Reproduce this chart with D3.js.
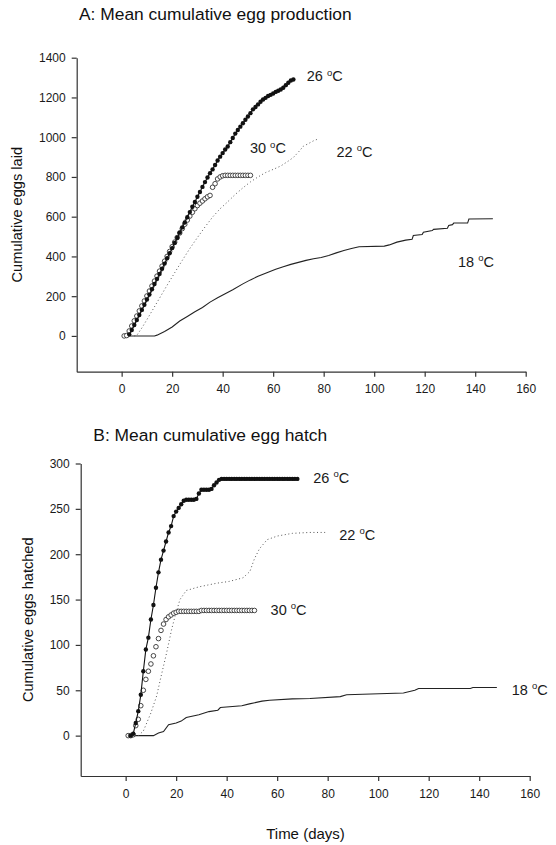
<!DOCTYPE html>
<html>
<head>
<meta charset="utf-8">
<script src="https://cdn.jsdelivr.net/npm/d3@7"></script>
<style>
  body { margin: 0; background: #fff; }
  svg { display: block; font-family: Arial, "Liberation Sans", sans-serif; }
</style>
</head>
<body>
<div id="chart"></div>
<script>
// ---- Data ----
const xTicks = [0, 20, 40, 60, 80, 100, 120, 140, 160];
const yTicksLaid = [0, 200, 400, 600, 800, 1000, 1200, 1400];
const yTicksHatch = [0, 50, 100, 150, 200, 250, 300];

// A: cumulative eggs laid. Marker series are daily values, first day given separately
const laid26Start = 3;
const laid26 = [8, 30, 55, 80, 105, 131, 157, 183, 208, 235, 261, 287, 312, 338, 364, 391, 416, 442, 468, 494,
  520, 546, 571, 597, 623, 650, 674, 700, 724, 750, 774, 797, 819, 838, 860, 883, 902, 920, 938, 953,
  975, 996, 1018, 1036, 1053, 1070, 1088, 1104, 1121, 1140, 1152, 1165, 1178, 1190, 1198, 1207, 1213, 1220, 1228, 1234,
  1240, 1249, 1262, 1274, 1285, 1290];
const laid30Start = 1;
const laid30 = [0, 2, 25, 50, 76, 100, 126, 151, 176, 201, 226, 251, 276, 301, 326, 351, 376, 400, 425, 449,
  472, 495, 518, 540, 562, 583, 603, 622, 640, 656, 668, 679, 690, 700, 707, 748, 766, 790, 800, 806,
  808, 808, 808, 808, 808, 808, 808, 808, 808, 808, 808];
// line-only series: [day, value] vertices
const laid22 = [[5, 0], [6, 3], [8, 40], [10, 82], [12, 125], [15, 190], [18, 255], [21, 318], [24, 380], [27, 440],
  [30, 495], [33, 548], [36, 598], [39, 640], [42, 675], [45, 712], [48, 745], [51, 775], [54, 800], [57, 822],
  [60, 838], [63, 855], [66, 880], [68, 898], [70, 925], [72, 955], [74, 968], [76, 982], [78, 992]];
const laid18 = [[2, 0], [13, 0], [14, 4], [17, 22], [20, 45], [23, 75], [26, 98], [29, 122], [32, 143], [35, 170],
  [38, 192], [41, 212], [44, 232], [48, 262], [51, 282], [54, 300], [57, 315], [61, 335], [64, 348], [67, 360],
  [70, 370], [73, 380], [76, 388], [79, 395], [82, 405], [85, 418], [88, 430], [91, 440], [94, 449], [104, 452],
  [106, 458], [109, 472], [112.5, 482], [115, 486], [115.5, 505], [119, 510], [119.5, 522], [123, 530], [123.5, 536],
  [129, 542], [129.5, 556], [131, 560], [131.5, 568], [137, 568], [137.5, 588], [147, 590]];

// B: cumulative eggs hatched
const hatch26Start = 2;
const hatch26 = [0, 2, 14, 27, 45, 71, 95, 108, 128, 144, 163, 180, 194, 204, 214, 224, 231, 242, 247, 251,
  255, 259, 260, 260, 260, 260, 261, 267, 271, 271, 271, 271, 272, 276, 279, 282,
  283, 283, 283, 283, 283, 283, 283, 283, 283, 283, 283, 283, 283, 283, 283, 283,
  283, 283, 283, 283, 283, 283, 283, 283, 283, 283, 283, 283, 283, 283, 283];
const hatch30Start = 1;
const hatch30 = [0, 0, 1, 11, 18, 33, 50, 62, 71, 79, 88, 98, 107, 116, 123, 128, 131, 133, 135, 136,
  137, 137, 137, 137, 137, 137, 137, 137, 137, 138, 138, 138, 138, 138, 138, 138, 138, 138, 138, 138,
  138, 138, 138, 138, 138, 138, 138, 138, 138, 138, 138];
const hatch22 = [[5, 0], [7, 5], [10, 25], [12.3, 44], [14, 65], [16.2, 91], [18.2, 117], [19.5, 131], [21.5, 150],
  [24, 160], [29, 164], [36, 168], [41, 170], [46.5, 174], [49.2, 181], [51, 195], [53, 206], [56, 216], [60, 220],
  [66, 223], [73, 224], [79, 224]];
const hatch18 = [[2, 0], [11, 0], [13, 3], [15, 4.5], [17, 12], [20, 14], [22, 16], [24, 20], [29, 23], [33, 26.5],
  [36.5, 28], [37.5, 31], [46, 33], [49, 35], [54, 38], [57, 39], [66, 40.5], [73, 41], [85, 43], [87.5, 45],
  [110, 47], [114.5, 50], [116, 52], [136.5, 52], [137.5, 53], [147, 53]];

// temperature labels, anchored in data units
const laidLabels = [["26", 73.3, 1281], ["30", 50.8, 920], ["22", 85.1, 902], ["18", 133.2, 349]];
const hatchLabels = [["26", 74.3, 279], ["22", 84.6, 216], ["30", 57.4, 133], ["18", 152.9, 45]];

const toPairs = (start, values) => values.map((v, i) => [start + i, v]);

class CumulativeChart {
  constructor() {
    const attrs = {
      container: "#chart",
      width: 556,
      height: 845,
      axisColor: "#333",
      inkColor: "#111",
      panels: [
        {
          title: "A: Mean cumulative egg production", titleX: 79, titleY: 20,
          yTitle: "Cumulative eggs laid", yTitleX: 22,
          xDomain: [-17.8, 160], xRange: [76.7, 525.7],
          yDomain: [-180, 1400], yRange: [371.7, 57.7], yTicks: yTicksLaid,
          s26: toPairs(laid26Start, laid26), s30: toPairs(laid30Start, laid30),
          s22: laid22, s18: laid18, labels: laidLabels
        },
        {
          title: "B: Mean cumulative egg hatch", titleX: 93.3, titleY: 441,
          yTitle: "Cumulative eggs hatched", yTitleX: 33,
          xDomain: [-17.8, 160], xRange: [80.7, 529.7],
          yDomain: [-44.5, 300], yRange: [776, 463.5], yTicks: yTicksHatch,
          s26: toPairs(hatch26Start, hatch26), s30: toPairs(hatch30Start, hatch30),
          s22: hatch22, s18: hatch18, labels: hatchLabels
        }
      ]
    };
    this.getState = () => attrs;
    this.setState = (d) => Object.assign(attrs, d);
  }

  render() {
    const { container, width, height, panels } = this.getState();
    const svg = d3.select(container).append("svg")
      .attr("width", width)
      .attr("height", height);
    this.setState({ svg });
    panels.forEach(p => this.drawPanel(p));

    // shared x axis title
    svg.append("text")
      .attr("x", 305.5)
      .attr("y", 839)
      .attr("text-anchor", "middle")
      .attr("font-size", 15)
      .attr("fill", "#111")
      .text("Time (days)");
    return this;
  }

  drawPanel(p) {
    const { svg, axisColor, inkColor } = this.getState();
    const x = d3.scaleLinear().domain(p.xDomain).range(p.xRange);
    const y = d3.scaleLinear().domain(p.yDomain).range(p.yRange);
    const g = svg.append("g");

    g.append("text")
      .attr("x", p.titleX)
      .attr("y", p.titleY)
      .attr("font-size", 17.4)
      .attr("fill", inkColor)
      .text(p.title);

    g.append("text")
      .attr("transform", `translate(${p.yTitleX},${(p.yRange[0] + p.yRange[1]) / 2}) rotate(-90)`)
      .attr("text-anchor", "middle")
      .attr("font-size", 14.6)
      .attr("fill", inkColor)
      .text(p.yTitle);

    const fmt = d3.format("d");
    const xAxis = g.append("g")
      .attr("transform", `translate(0,${p.yRange[0]})`)
      .call(d3.axisBottom(x).tickValues(xTicks).tickFormat(fmt).tickSize(5).tickSizeOuter(0).tickPadding(8));
    const yAxis = g.append("g")
      .attr("transform", `translate(${p.xRange[0]},0)`)
      .call(d3.axisLeft(y).tickValues(p.yTicks).tickFormat(fmt).tickSize(5).tickSizeOuter(0).tickPadding(6));
    [xAxis, yAxis].forEach(a => {
      a.attr("font-family", null).attr("font-size", 12).attr("color", axisColor);
      a.selectAll("path, line").attr("stroke-width", 1.2);
      a.selectAll("text").attr("fill", "#1a1a1a");
    });

    const line = d3.line().x(d => x(d[0])).y(d => y(d[1]));

    // 18 C: plain solid line
    g.append("path").datum(p.s18)
      .attr("d", line).attr("fill", "none")
      .attr("stroke", "#222").attr("stroke-width", 1.1);

    // 22 C: dotted line
    g.append("path").datum(p.s22)
      .attr("d", line).attr("fill", "none")
      .attr("stroke", "#555").attr("stroke-width", 1)
      .attr("stroke-dasharray", "1,2.6");

    // 30 C: open circles
    g.append("g").selectAll("circle").data(p.s30).join("circle")
      .attr("cx", d => x(d[0])).attr("cy", d => y(d[1]))
      .attr("r", 2.3)
      .attr("fill", "#fff").attr("stroke", "#333").attr("stroke-width", 0.9);

    // 26 C: line and filled circles
    g.append("path").datum(p.s26)
      .attr("d", line).attr("fill", "none")
      .attr("stroke", "#111").attr("stroke-width", 1.1);
    g.append("g").selectAll("circle").data(p.s26).join("circle")
      .attr("cx", d => x(d[0])).attr("cy", d => y(d[1]))
      .attr("r", 2.2)
      .attr("fill", "#111");

    // temperature labels
    const lab = g.append("g").selectAll("text").data(p.labels).join("text")
      .attr("x", d => x(d[1]))
      .attr("y", d => y(d[2]))
      .attr("font-size", 14.5)
      .attr("fill", "#1a1a1a");
    lab.append("tspan").text(d => d[0] + " ");
    lab.append("tspan").attr("dy", -5.5).attr("font-size", 9.5).text("o");
    lab.append("tspan").attr("dy", 5.5).text("C");
  }
}

new CumulativeChart().render();
</script>
</body>
</html>
